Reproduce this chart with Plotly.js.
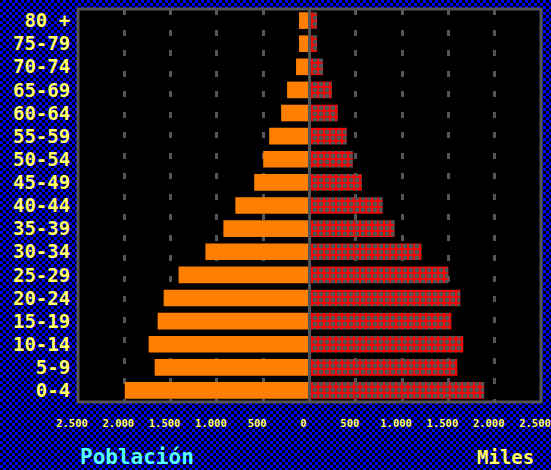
<!DOCTYPE html>
<html><head><meta charset="utf-8">
<script src="https://cdn.plot.ly/plotly-3.0.1.min.js"></script>
<style>
html,body{margin:0;padding:0;width:551px;height:470px;overflow:hidden;background-color:#000;
background-image:conic-gradient(#0000ff 25%, #000 0 50%, #0000ff 0 75%, #000 0);background-size:6px 6px;}
#chart{width:551px;height:470px;}
</style></head><body><div id="chart"></div>
<script>
const ageGroups = ['0-4','5-9','10-14','15-19','20-24','25-29','30-34','35-39','40-44','45-49','50-54','55-59','60-64','65-69','70-74','75-79','80 +'];
const leftSeries = [1995,1672,1737,1640,1575,1414,1124,930,801,597,500,435,306,242,145,113,113];
const rightSeries = [1887,1597,1661,1532,1629,1500,1210,919,790,565,468,403,306,242,145,81,81];
const xTickVals = [-2500,-2000,-1500,-1000,-500,0,500,1000,1500,2000,2500];
const xTickText = ['2.500','2.000','1.500','1.000','500','0','500','1.000','1.500','2.000','2.500'];

const gray = '#555555';
const traces = [
  {type:'bar', orientation:'h', y:ageGroups, x:leftSeries.map(v=>-v),
   marker:{color:'#ff8000', line:{width:0}}, hoverinfo:'skip'},
  {type:'bar', orientation:'h', y:ageGroups, x:rightSeries,
   marker:{color:'#ff0000', line:{width:0},
     pattern:{shape:'.', fgcolor:gray, bgcolor:'#ff0000', size:6, solidity:0.5, fillmode:'replace'}},
   hoverinfo:'skip'}
];
const layout = {
  width:551, height:470,
  margin:{l:78, r:10, t:9, b:68, pad:0},
  paper_bgcolor:'rgba(0,0,0,0)', plot_bgcolor:'#000000',
  barmode:'relative', bargap:0.28, showlegend:false,
  xaxis:{range:[-2500,2500], tickmode:'array', tickvals:xTickVals, ticktext:xTickText,
    showgrid:true, gridcolor:gray, gridwidth:3, griddash:'6px,14.5px',
    zeroline:false, showline:false, ticks:'outside', ticklen:11, tickcolor:'rgba(0,0,0,0)',
    ticklabeloverflow:'allow', ticklabelshift:-6,
    tickfont:{family:'DejaVu Sans Mono', size:10.5, color:'#ffff66', weight:'bold'}, fixedrange:true},
  yaxis:{type:'category', showgrid:false, zeroline:false, showline:false,
    ticks:'outside', ticklen:3, tickcolor:'rgba(0,0,0,0)',
    tickfont:{family:'DejaVu Sans Mono', size:19, color:'#ffff66', weight:'bold'}, fixedrange:true},
  shapes:[
    {type:'line', xref:'x', yref:'paper', x0:0, x1:0, y0:0, y1:1, line:{color:gray, width:3}, layer:'above'},
    {type:'rect', xref:'paper', yref:'paper', x0:0, x1:1, y0:0, y1:1, line:{color:gray, width:3}, layer:'above'}
  ],
  annotations:[
    {text:'Población', xref:'paper', yref:'paper', x:0, y:-0.14, xanchor:'left', yanchor:'middle', showarrow:false,
     font:{family:'DejaVu Sans Mono', size:21, color:'#55ffff', weight:'bold'}},
    {text:'Miles', xref:'paper', yref:'paper', x:0.99, y:-0.14, xanchor:'right', yanchor:'middle', showarrow:false,
     font:{family:'DejaVu Sans Mono', size:19, color:'#ffff66', weight:'bold'}}
  ]
};
Plotly.newPlot('chart', traces, layout, {displayModeBar:false, staticPlot:true});
</script></body></html>
